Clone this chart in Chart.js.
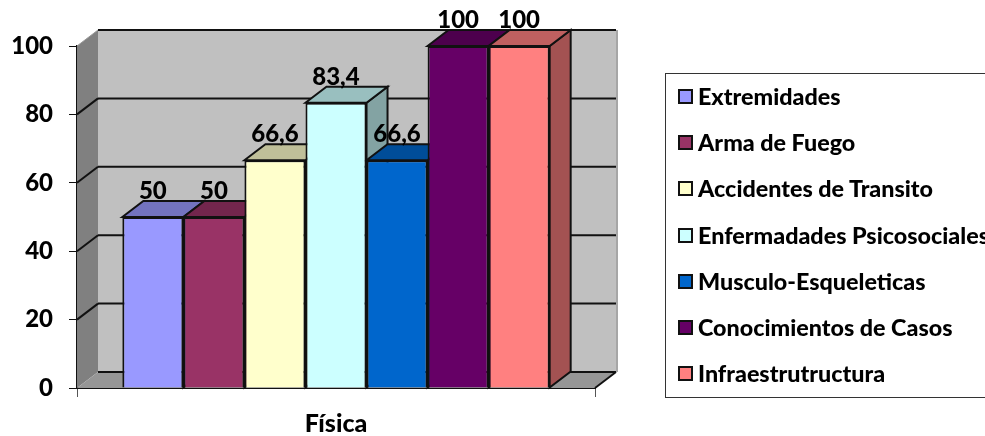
<!DOCTYPE html>
<html>
<head>
<meta charset="utf-8">
<style>
  html, body { margin: 0; padding: 0; background: #fff; overflow: hidden; }
  #wrap { position: relative; width: 985px; height: 436px; overflow: hidden; }
  #legend { position: absolute; left: 665px; top: 73px; width: 400px; height: 323px; border: 1px solid #333; box-sizing: content-box; }
  .item { position: absolute; left: 12px; height: 24px; line-height: 24px; font: 900 23.3px Lato, sans-serif; color: #000; white-space: nowrap; }
  .swatch { position: absolute; left: 0; top: 3px; width: 11px; height: 11px; border: 2px solid #111; }
  .name { position: absolute; left: 20px; top: -4px; }
</style>
</head>
<body>
<div id="wrap">
  <canvas id="chart" width="985" height="436"></canvas>
  <div id="legend"></div>
</div>
<script src="https://cdn.jsdelivr.net/npm/chart.js@4"></script>
<script>
// ================= DATA =================
const categories = ["Física"];
const seriesNames = ["Extremidades", "Arma de Fuego", "Accidentes de Transito", "Enfermadades Psicosociales", "Musculo-Esqueleticas", "Conocimientos de Casos", "Infraestrutructura"];
const seriesValues = [50, 50, 66.6, 83.4, 66.6, 100, 100];
const seriesColors = ["#9999FF", "#993366", "#FFFFCC", "#CCFFFF", "#0066CC", "#660066", "#FF8080"];

// depth of the fake 3D box
const DX = 21;
const DY = 16;

function shade(hex, f) {
  const n = parseInt(hex.slice(1), 16);
  const r = Math.round((n >> 16) * f);
  const g = Math.round(((n >> 8) & 255) * f);
  const b = Math.round((n & 255) * f);
  return `rgb(${r},${g},${b})`;
}

function poly(ctx, pts, fill, stroke) {
  ctx.beginPath();
  pts.forEach((p, i) => i ? ctx.lineTo(p[0], p[1]) : ctx.moveTo(p[0], p[1]));
  ctx.closePath();
  if (fill) { ctx.fillStyle = fill; ctx.fill(); }
  if (stroke) { ctx.strokeStyle = stroke; ctx.lineWidth = 2; ctx.stroke(); }
}

function seg(ctx, x1, y1, x2, y2, color, w) {
  ctx.beginPath();
  ctx.moveTo(x1, y1);
  ctx.lineTo(x2, y2);
  ctx.strokeStyle = color;
  ctx.lineWidth = w;
  ctx.stroke();
}

// ================= WALLS + BAR DEPTH =================
const box3d = {
  id: "box3d",
  beforeDatasetsDraw(chart) {
    const { ctx, chartArea: a, scales: { y } } = chart;
    ctx.save();

    // walls and floor
    poly(ctx, [[a.left, a.top], [a.left + DX, a.top - DY], [a.left + DX, a.bottom - DY], [a.left, a.bottom]], "#808080");
    poly(ctx, [[a.left + DX, a.top - DY], [a.right + DX, a.top - DY], [a.right + DX, a.bottom - DY], [a.left + DX, a.bottom - DY]], "#C0C0C0");
    poly(ctx, [[a.left, a.bottom], [a.left + DX, a.bottom - DY], [a.right + DX, a.bottom - DY], [a.right, a.bottom]], "#969696");
    seg(ctx, a.right + DX + 1, a.top - DY, a.right + DX + 1, a.bottom - DY, "#A6A6A6", 2);

    // gridlines on the walls
    y.ticks.forEach(t => {
      const py = y.getPixelForValue(t.value);
      seg(ctx, a.left + DX, py - DY, a.right + DX, py - DY, "#111", 2);
      if (t.value > 0 && t.value < 100) seg(ctx, a.left, py, a.left + DX, py - DY, "#111", 2);
    });
    seg(ctx, a.right, a.bottom, a.right + DX, a.bottom - DY, "#111", 2);
    seg(ctx, a.left, a.top, a.left + DX, a.top - DY, "#999", 1);

    // top and side of each bar, left to right
    chart.data.datasets.forEach((ds, i) => {
      const bar = chart.getDatasetMeta(i).data[0];
      const l = bar.x - bar.width / 2;
      const r = bar.x + bar.width / 2;
      const top = bar.y;
      const base = bar.base;
      poly(ctx, [[r, top], [r + DX, top - DY], [r + DX, base - DY], [r, base]], shade(ds.backgroundColor, 0.64), "#111");
      poly(ctx, [[l, top], [l + DX, top - DY], [r + DX, top - DY], [r, top]], shade(ds.backgroundColor, 0.75), "#111");
    });
    ctx.restore();
  },
  afterDatasetsDraw(chart) {
    const { ctx } = chart;
    ctx.save();
    ctx.font = "900 24px Lato, sans-serif";
    ctx.fillStyle = "#000";
    ctx.textAlign = "center";
    ctx.textBaseline = "middle";
    chart.data.datasets.forEach((ds, i) => {
      const bar = chart.getDatasetMeta(i).data[0];
      ctx.fillText(String(ds.data[0]).replace(".", ","), bar.x, bar.y - 26);
    });
    ctx.restore();
  }
};

// ================= CHART =================
new Chart(document.getElementById("chart"), {
  type: "bar",
  plugins: [box3d],
  data: {
    labels: categories,
    datasets: seriesNames.map((name, i) => ({
      label: name,
      data: [seriesValues[i]],
      backgroundColor: seriesColors[i],
      borderColor: "#111",
      borderWidth: 2
    }))
  },
  options: {
    responsive: false,
    animation: false,
    layout: { padding: { top: 46, right: 390, bottom: 0, left: 0 } },
    plugins: { legend: { display: false }, tooltip: { enabled: false } },
    datasets: { bar: { categoryPercentage: 0.825, barPercentage: 1 } },
    scales: {
      x: {
        afterFit: s => { s.height = 48; },
        grid: { drawOnChartArea: false, tickLength: 9, color: "#555", offset: true },
        border: { color: "#111", width: 2 },
        ticks: { color: "#000", padding: 12, font: { family: "Lato", weight: "900", size: 25 } }
      },
      y: {
        min: 0,
        max: 100,
        afterFit: s => { s.width = 77; },
        grid: { drawOnChartArea: false, tickLength: 8, color: "#111" },
        border: { color: "#111", width: 2 },
        ticks: { stepSize: 20, color: "#000", padding: 16, font: { family: "Lato", weight: "900", size: 24 } }
      }
    }
  }
});

// ================= LEGEND =================
const legendBox = document.getElementById("legend");
seriesNames.forEach((name, i) => {
  legendBox.innerHTML += `<div class="item" style="top:${12 + i * 46.2}px"><span class="swatch" style="background:${seriesColors[i]}"></span><span class="name">${name}</span></div>`;
});
</script>
</body>
</html>
